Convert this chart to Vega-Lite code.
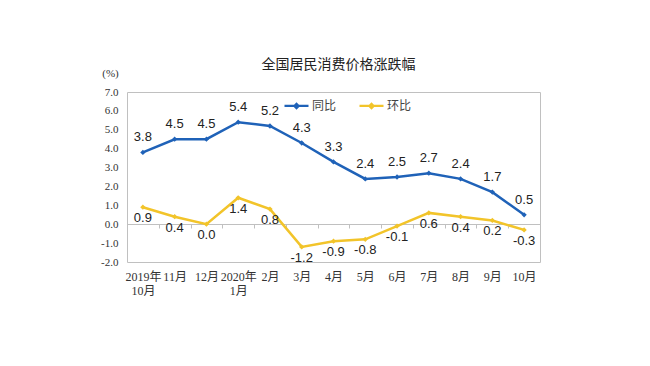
{
  "$schema": "https://vega.github.io/schema/vega-lite/v6.json",
  "width": 413,
  "height": 170,
  "autosize": {"type": "none"},
  "padding": {"left": 127, "top": 92, "right": 110, "bottom": 104},
  "background": "white",
  "title": {
    "text": "全国居民消费价格涨跌幅",
    "font": "Noto Sans CJK SC",
    "fontSize": 14,
    "fontWeight": "normal",
    "color": "#222222",
    "offset": -5,
    "dx": 5
  },
  "config": {
    "view": {"stroke": "#c0c0c0", "strokeWidth": 1},
    "locale": {
      "number": {"decimal": ".", "thousands": ",", "grouping": [3], "currency": ["$", ""], "minus": "-"}
    }
  },
  "data": {
    "values": [
      {"m": "2019年|10月", "s": "同比", "v": 3.8},
      {"m": "11月", "s": "同比", "v": 4.5},
      {"m": "12月", "s": "同比", "v": 4.5},
      {"m": "2020年|1月", "s": "同比", "v": 5.4},
      {"m": "2月", "s": "同比", "v": 5.2},
      {"m": "3月", "s": "同比", "v": 4.3},
      {"m": "4月", "s": "同比", "v": 3.3},
      {"m": "5月", "s": "同比", "v": 2.4},
      {"m": "6月", "s": "同比", "v": 2.5},
      {"m": "7月", "s": "同比", "v": 2.7},
      {"m": "8月", "s": "同比", "v": 2.4},
      {"m": "9月", "s": "同比", "v": 1.7},
      {"m": "10月", "s": "同比", "v": 0.5},
      {"m": "2019年|10月", "s": "环比", "v": 0.9},
      {"m": "11月", "s": "环比", "v": 0.4},
      {"m": "12月", "s": "环比", "v": 0.0},
      {"m": "2020年|1月", "s": "环比", "v": 1.4},
      {"m": "2月", "s": "环比", "v": 0.8},
      {"m": "3月", "s": "环比", "v": -1.2},
      {"m": "4月", "s": "环比", "v": -0.9},
      {"m": "5月", "s": "环比", "v": -0.8},
      {"m": "6月", "s": "环比", "v": -0.1},
      {"m": "7月", "s": "环比", "v": 0.6},
      {"m": "8月", "s": "环比", "v": 0.4},
      {"m": "9月", "s": "环比", "v": 0.2},
      {"m": "10月", "s": "环比", "v": -0.3}
    ]
  },
  "encoding": {
    "x": {
      "field": "m",
      "type": "ordinal",
      "sort": null,
      "scale": {"paddingInner": 0, "paddingOuter": 0},
      "axis": {
        "title": null,
        "offset": -38,
        "domainColor": "#c0c0c0",
        "tickColor": "#c0c0c0",
        "tickSize": 4,
        "tickBand": "extent",
        "labelAngle": 0,
        "labelPadding": 43,
        "labelFont": "Liberation Serif, Noto Sans CJK SC",
        "labelFontSize": 12,
        "labelColor": "#333333",
        "labelLineHeight": 14,
        "labelExpr": "datum.value ? split(datum.value, '|') : ''"
      }
    },
    "y": {
      "field": "v",
      "type": "quantitative",
      "scale": {"domain": [-2, 7], "nice": false},
      "axis": {
        "values": [-2, -1, 0, 1, 2, 3, 4, 5, 6, 7],
        "format": ".1f",
        "grid": false,
        "domain": false,
        "ticks": false,
        "labelPadding": 9,
        "labelFont": "Liberation Serif",
        "labelFontSize": 11,
        "labelColor": "#333333",
        "title": "(%)",
        "titleAngle": 0,
        "titleX": -17,
        "titleY": -19,
        "titleAlign": "center",
        "titleBaseline": "middle",
        "titleFont": "Liberation Serif",
        "titleFontSize": 11,
        "titleFontWeight": "normal",
        "titleColor": "#333333"
      }
    },
    "color": {
      "field": "s",
      "type": "nominal",
      "sort": ["同比", "环比"],
      "scale": {"domain": ["同比", "环比"], "range": ["#1f62b8", "#f2c42a"]},
      "legend": {
        "title": null,
        "orient": "none",
        "legendX": 156,
        "legendY": 0,
        "direction": "horizontal",
        "symbolType": "M-1,0H1M-0.18,0L0,-0.18L0.18,0L0,0.18Z",
        "symbolSize": 576,
        "symbolStrokeWidth": 2.2,
        "labelFont": "Noto Sans CJK SC",
        "labelFontSize": 12,
        "labelColor": "#444444",
        "labelOffset": 2,
        "columnPadding": 18
      }
    }
  },
  "layer": [
    {"mark": {"type": "line", "strokeWidth": 2.5}},
    {"mark": {"type": "point", "shape": "diamond", "filled": true, "size": 28, "opacity": 1}},
    {
      "transform": [{"filter": "datum.s == '同比'"}],
      "mark": {"type": "text", "dy": -15, "font": "Liberation Sans", "fontSize": 13, "color": "#222222"},
      "encoding": {"text": {"field": "v", "type": "quantitative", "format": ".1f"}, "color": {"value": "#222222"}}
    },
    {
      "transform": [{"filter": "datum.s == '环比'"}],
      "mark": {"type": "text", "dy": 11, "font": "Liberation Sans", "fontSize": 13, "color": "#222222"},
      "encoding": {"text": {"field": "v", "type": "quantitative", "format": ".1f"}, "color": {"value": "#222222"}}
    }
  ]
}
